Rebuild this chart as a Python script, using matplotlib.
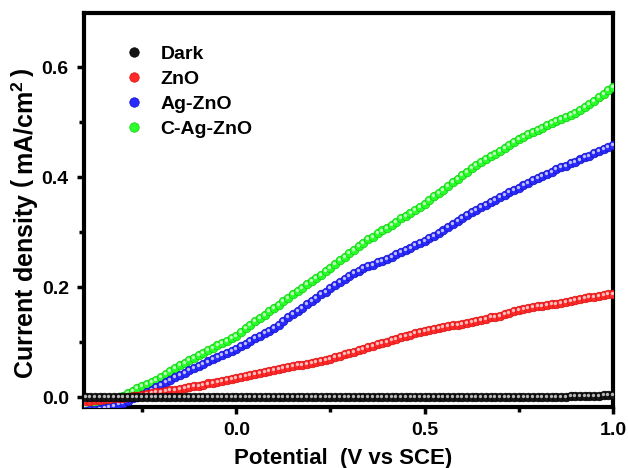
# importing the libraries
import numpy as np
import matplotlib
matplotlib.use('Agg')
import matplotlib.pyplot as plt
import matplotlib.transforms as mtransforms
from matplotlib.ticker import MultipleLocator

plt.rcParams['font.family'] = ['Liberation Sans', 'DejaVu Sans']
plt.rcParams['font.weight'] = 'bold'
plt.rcParams['mathtext.fontset'] = 'custom'
plt.rcParams['mathtext.rm'] = 'Liberation Sans:bold'
plt.rcParams['mathtext.bf'] = 'Liberation Sans:bold'

# potential sweep (V vs SCE), 12.5 mV steps
potential = np.linspace(-0.4, 1.0, 113)

dark = [0.001, 0.001, 0.001, 0.001, 0.001, 0.001, 0.001, 0.001,
        0.000, 0.000, 0.000, 0.000, 0.000, 0.000, 0.000, 0.000,
        0.000, 0.000, 0.000, 0.000, 0.000, 0.000, 0.000, 0.000,
        0.000, 0.000, 0.000, 0.000, 0.000, 0.000, 0.000, 0.000,
        0.000, 0.000, 0.000, 0.000, 0.000, 0.000, 0.000, 0.000,
        0.000, 0.000, 0.000, 0.000, 0.000, 0.000, 0.000, 0.000,
        0.000, 0.000, 0.000, 0.000, 0.000, 0.000, 0.000, 0.000,
        0.000, 0.000, 0.000, 0.000, 0.000, 0.000, 0.000, 0.000,
        0.000, 0.000, 0.000, 0.000, 0.000, 0.000, 0.000, 0.000,
        0.000, 0.000, 0.000, 0.000, 0.000, 0.000, 0.000, 0.000,
        0.000, 0.000, 0.000, 0.000, 0.000, 0.000, 0.000, 0.000,
        0.000, 0.000, 0.000, 0.000, 0.000, 0.000, 0.000, 0.000,
        0.000, 0.000, 0.001, 0.001, 0.001, 0.001, 0.001, 0.002,
        0.002, 0.002, 0.002, 0.003, 0.003, 0.003, 0.004, 0.004,
        0.005]

zno = [-0.006, -0.006, -0.005, -0.005, -0.004, -0.003, -0.002, -0.002,
       -0.001, 0.000, 0.002, 0.003, 0.004, 0.006, 0.007, 0.009,
       0.010, 0.011, 0.013, 0.014, 0.015, 0.017, 0.018, 0.020,
       0.021, 0.023, 0.025, 0.026, 0.028, 0.030, 0.031, 0.033,
       0.035, 0.037, 0.039, 0.040, 0.042, 0.044, 0.046, 0.048,
       0.050, 0.052, 0.054, 0.055, 0.057, 0.058, 0.059, 0.061,
       0.062, 0.064, 0.066, 0.068, 0.070, 0.073, 0.075, 0.078,
       0.080, 0.083, 0.086, 0.088, 0.091, 0.094, 0.096, 0.099,
       0.101, 0.104, 0.106, 0.109, 0.111, 0.114, 0.116, 0.118,
       0.121, 0.122, 0.124, 0.126, 0.127, 0.129, 0.131, 0.132,
       0.133, 0.135, 0.137, 0.139, 0.141, 0.143, 0.145, 0.146,
       0.148, 0.151, 0.153, 0.156, 0.158, 0.160, 0.162, 0.164,
       0.165, 0.166, 0.168, 0.169, 0.170, 0.172, 0.173, 0.175,
       0.176, 0.178, 0.180, 0.182, 0.183, 0.184, 0.185, 0.187,
       0.188]

ag_zno = [-0.025, -0.024, -0.023, -0.021, -0.020, -0.018, -0.015, -0.013,
          -0.010, -0.006, -0.002, 0.001, 0.005, 0.009, 0.013, 0.018,
          0.022, 0.027, 0.031, 0.036, 0.040, 0.044, 0.049, 0.053,
          0.057, 0.061, 0.065, 0.069, 0.073, 0.077, 0.080, 0.084,
          0.088, 0.093, 0.097, 0.102, 0.107, 0.112, 0.116, 0.121,
          0.126, 0.132, 0.139, 0.145, 0.151, 0.157, 0.163, 0.169,
          0.175, 0.181, 0.187, 0.192, 0.198, 0.204, 0.209, 0.215,
          0.220, 0.225, 0.229, 0.234, 0.238, 0.241, 0.245, 0.248,
          0.251, 0.255, 0.260, 0.264, 0.268, 0.272, 0.276, 0.280,
          0.284, 0.289, 0.293, 0.298, 0.303, 0.309, 0.315, 0.320,
          0.326, 0.331, 0.336, 0.340, 0.345, 0.350, 0.355, 0.359,
          0.364, 0.368, 0.373, 0.377, 0.381, 0.385, 0.390, 0.394,
          0.398, 0.402, 0.406, 0.410, 0.414, 0.418, 0.421, 0.425,
          0.428, 0.432, 0.436, 0.439, 0.443, 0.447, 0.451, 0.454,
          0.458]

c_ag_zno = [-0.018, -0.016, -0.013, -0.011, -0.008, -0.005, -0.002, 0.000,
            0.003, 0.007, 0.011, 0.016, 0.020, 0.024, 0.028, 0.032,
            0.036, 0.042, 0.047, 0.053, 0.058, 0.063, 0.068, 0.072,
            0.077, 0.081, 0.086, 0.090, 0.095, 0.099, 0.103, 0.108,
            0.112, 0.118, 0.125, 0.131, 0.138, 0.144, 0.150, 0.156,
            0.162, 0.168, 0.175, 0.181, 0.187, 0.193, 0.199, 0.205,
            0.211, 0.217, 0.223, 0.229, 0.235, 0.242, 0.249, 0.255,
            0.262, 0.268, 0.275, 0.281, 0.287, 0.292, 0.298, 0.303,
            0.308, 0.313, 0.319, 0.325, 0.330, 0.335, 0.341, 0.346,
            0.352, 0.358, 0.365, 0.371, 0.377, 0.384, 0.391, 0.397,
            0.404, 0.410, 0.416, 0.422, 0.428, 0.433, 0.438, 0.442,
            0.447, 0.453, 0.458, 0.464, 0.469, 0.473, 0.478, 0.482,
            0.486, 0.490, 0.494, 0.498, 0.502, 0.506, 0.510, 0.513,
            0.517, 0.522, 0.527, 0.533, 0.538, 0.545, 0.551, 0.558,
            0.564]

labels = ['Dark', 'ZnO', 'Ag-ZnO', 'C-Ag-ZnO']
colors = ['#151515', '#ff2a2a', '#2a2aff', '#2aff2a']
edges = ['#000000', '#d81010', '#1010c8', '#10c810']
series = [dark, zno, ag_zno, c_ag_zno]
zorders = [6, 5, 4, 3]

fig = plt.figure(figsize=(6.28, 4.68), dpi=100)
ax = fig.add_axes([0.134, 0.130, 0.842, 0.842])

# little white shine on each ball
shine = mtransforms.offset_copy(ax.transData, fig=fig, x=-0.7, y=0.7, units='points')

handles = []
for y, lab, c, ec, z in zip(series, labels, colors, edges, zorders):
    h, = ax.plot(potential, y, 'o', ms=6.2, mfc=c, mec=ec, mew=0.5,
                 label=lab, zorder=z)
    ax.plot(potential, y, 'o', ms=2.4, color='white', alpha=0.7,
            mew=0, transform=shine, zorder=z)
    handles.append(h)

ax.set_xlim(-0.404, 1.0)
ax.set_ylim(-0.018, 0.698)
ax.xaxis.set_major_locator(MultipleLocator(0.5))
ax.xaxis.set_minor_locator(MultipleLocator(0.25))
ax.yaxis.set_major_locator(MultipleLocator(0.2))
ax.yaxis.set_minor_locator(MultipleLocator(0.1))
ax.tick_params(which='major', direction='out', length=5, width=2.5,
               labelsize=14, pad=6)
ax.tick_params(which='minor', direction='out', length=3.5, width=2.5)
for lbl in ax.get_xticklabels() + ax.get_yticklabels():
    lbl.set_fontweight('bold')
for s in ax.spines.values():
    s.set_linewidth(3)

ax.set_xlabel('Potential  (V vs SCE)', fontsize=16, fontweight='bold')
ax.xaxis.set_label_coords(0.49, -0.104)
ax.xaxis.label.set_va('top')
ax.set_ylabel(r'Current density $\left(\,\mathbf{mA/cm^2}\,\right)$', fontsize=18,
              fontweight='bold')
ax.yaxis.set_label_coords(-0.082, 0.467)

leg = ax.legend(handles=handles, loc='upper left', bbox_to_anchor=(0.042, 0.963),
                frameon=False, fontsize=14, handlelength=1.0, handletextpad=0.89,
                labelspacing=0.38, markerscale=1.1)
for t in leg.get_texts():
    t.set_fontweight('bold')

plt.savefig('out.png', dpi=100)
